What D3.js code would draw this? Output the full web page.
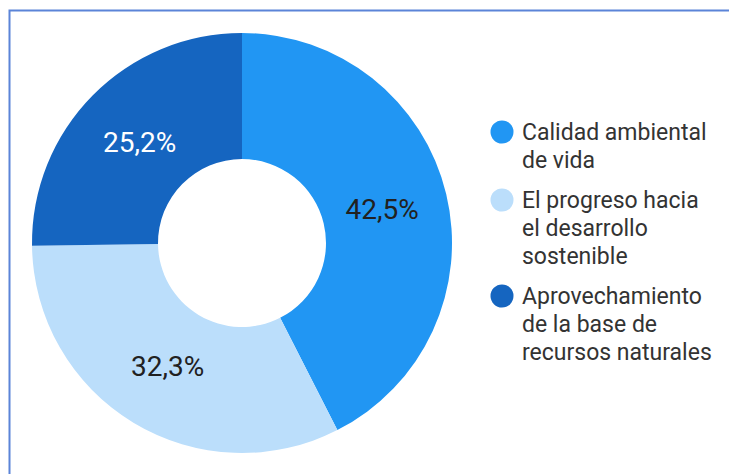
<!DOCTYPE html>
<html>
<head>
<meta charset="utf-8">
<script src="https://cdn.jsdelivr.net/npm/d3@7"></script>
<style>
  html, body { margin: 0; padding: 0; background: #fff; }
  svg { display: block; font-family: Roboto, "Noto Sans", sans-serif; }
</style>
</head>
<body>
<svg class="donut-frame"></svg>
<script>
const categories = ["Calidad ambiental de vida", "El progreso hacia el desarrollo sostenible", "Aprovechamiento de la base de recursos naturales"];
const legendLines = [
  ["Calidad ambiental", "de vida"],
  ["El progreso hacia", "el desarrollo", "sostenible"],
  ["Aprovechamiento", "de la base de", "recursos naturales"]
];
const values = [42.5, 32.3, 25.2];
const valueLabels = ["42,5%", "32,3%", "25,2%"];
const colors = ["#2196f3", "#bbdefb", "#1565c0"];
const labelColors = ["#212121", "#212121", "#ffffff"];

const width = 729, height = 474;
const cx = 242, cy = 243, outerR = 210, innerR = 84;

const svg = d3.select(".donut-frame")
  .attr("width", width)
  .attr("height", height);

// frame line, only top and left visible
svg.append("rect")
  .attr("x", 9.5)
  .attr("y", 10.5)
  .attr("width", 900)
  .attr("height", 700)
  .attr("fill", "none")
  .attr("stroke", "#5b84d8")
  .attr("stroke-width", 2);

const data = values.map((v, i) => ({name: categories[i], value: v, label: valueLabels[i], i: i}));

const pie = d3.pie().sort(null).value(d => d.value);
const arc = d3.arc().innerRadius(innerR).outerRadius(outerR);
const labelArc = d3.arc().innerRadius(144).outerRadius(144);

const graph = svg.append("g")
  .attr("transform", "translate(" + cx + "," + cy + ")");

const arcs = pie(data);

graph.selectAll("path")
  .data(arcs)
  .enter().append("path")
  .attr("d", arc)
  .attr("fill", d => colors[d.data.i]);

graph.selectAll("text.pct")
  .data(arcs)
  .enter().append("text")
  .attr("class", "pct")
  .attr("transform", d => "translate(" + labelArc.centroid(d) + ")")
  .attr("text-anchor", "middle")
  .attr("dy", "0.36em")
  .attr("font-size", "28px")
  .attr("fill", d => labelColors[d.data.i])
  .text(d => d.data.label);

// legend
const legendX = 502, lineH = 28, groupGap = 12;
let y = 140;
const legend = svg.append("g").attr("class", "legend");
legendLines.forEach((lines, i) => {
  legend.append("circle")
    .attr("cx", legendX)
    .attr("cy", y - 8)
    .attr("r", 11.5)
    .attr("fill", colors[i]);
  const t = legend.append("text")
    .attr("x", legendX + 20)
    .attr("y", y)
    .attr("font-size", "23px")
    .attr("fill", "#333");
  lines.forEach((ln, j) => {
    t.append("tspan")
      .attr("x", legendX + 20)
      .attr("y", y + j * lineH)
      .text(ln);
  });
  y += lines.length * lineH + groupGap;
});
</script>
</body>
</html>
